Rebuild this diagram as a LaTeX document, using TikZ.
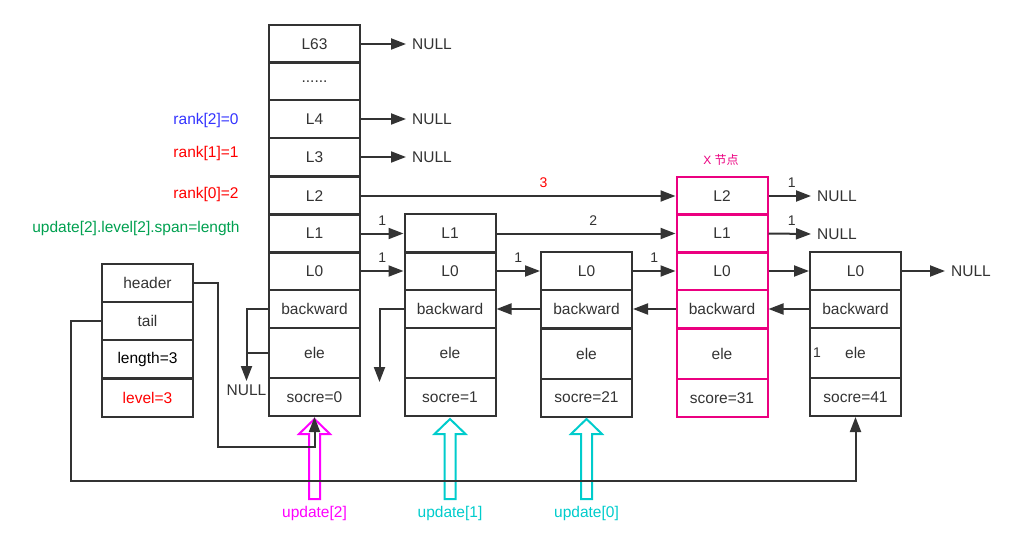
\documentclass[tikz,border=0pt]{standalone}
\usepackage{fontspec}
\setmainfont{Liberation Sans}
\newfontfamily\cjkfont{Noto Sans CJK SC}
\usetikzlibrary{arrows.meta}
\definecolor{dark}{RGB}{51,51,51}
\definecolor{xpink}{RGB}{235,0,128}
\definecolor{upmag}{RGB}{255,0,255}
\definecolor{upcyan}{RGB}{0,204,204}
\definecolor{rkblue}{RGB}{51,51,255}
\definecolor{rkred}{RGB}{255,0,0}
\definecolor{rkgreen}{RGB}{0,160,80}
\newcommand\fsmain{\fontsize{15.5}{18}\selectfont}
\newcommand\fssmall{\fontsize{14}{16}\selectfont}
\begin{document}
\begin{tikzpicture}[x=1pt,y=-1pt,
  cell/.style={draw=dark, line width=2pt, minimum width=91pt, minimum height=38pt, inner sep=0pt, font=\fsmain, text=dark},
  tallcell/.style={cell, minimum height=50pt},
  xcell/.style={cell, draw=xpink},
  xtall/.style={tallcell, draw=xpink},
  txt/.style={inner sep=0pt, font=\fsmain, text=dark},
  nul/.style={inner sep=0pt, font=\fsmain, text=dark, anchor=west},
  lbl/.style={inner sep=0pt, font=\fssmall, text=dark},
  link/.style={draw=dark, line width=2pt, -{Triangle[length=15pt,width=11pt]}},
  plain/.style={draw=dark, line width=2pt},
  uparr/.pic={\draw[line width=2pt, line join=miter] (0,0) -- (15.5,15) -- (5.5,15) -- (5.5,80) -- (-5.5,80) -- (-5.5,15) -- (-15.5,15) -- cycle;}
]
\useasboundingbox (0,0) rectangle (1017,548);

% ---- column 0 (header node) ----
\node[cell] (c0L63) at (314.5,44) {L63};
\node[cell] (c0dots) at (314.5,81.5) {......};
\node[cell] (c0L4) at (314.5,119) {L4};
\node[cell] (c0L3) at (314.5,157) {L3};
\node[cell] (c0L2) at (314.5,196) {L2};
\node[cell] (c0L1) at (314.5,233.5) {L1};
\node[cell] (c0L0) at (314.5,271) {L0};
\node[cell] (c0b) at (314.5,309) {backward};
\node[tallcell] (c0e) at (314.5,353) {ele};
\node[cell] (c0s) at (314.5,397) {socre=0};

% ---- column 1 ----
\node[cell] (c1L1) at (450,233.5) {L1};
\node[cell] (c1L0) at (450,271) {L0};
\node[cell] (c1b) at (450,309) {backward};
\node[tallcell] (c1e) at (450,353) {ele};
\node[cell] (c1s) at (450,397) {socre=1};

% ---- column 2 ----
\node[cell] (c2L0) at (586.5,271) {L0};
\node[cell] (c2b) at (586.5,309) {backward};
\node[tallcell] (c2e) at (586.5,353.5) {ele};
\node[cell] (c2s) at (586.5,397.5) {socre=21};

% ---- X node ----
\node[xcell] (xL2) at (722,196) {L2};
\node[xcell] (xL1) at (722,233.5) {L1};
\node[xcell] (xL0) at (722,271) {L0};
\node[xcell] (xb) at (722,309) {backward};
\node[xtall] (xe) at (722,354) {ele};
\node[xcell] (xs) at (722,398) {score=31};
\node[inner sep=0pt, text=xpink, font=\fontsize{12}{14}\selectfont] (xtitle) at (721,160) {X {\cjkfont 节点}};

% ---- column 4 ----
\node[cell] (c4L0) at (855.5,271) {L0};
\node[cell] (c4b) at (855.5,309) {backward};
\node[tallcell] (c4e) at (855.5,353) {ele};
\node[cell] (c4s) at (855.5,397) {socre=41};
\node[lbl] (c4one) at (817,353) {1};

% ---- list header ----
\node[cell] (hdr) at (147.5,283) {header};
\node[cell] (tail) at (147.5,321) {tail};
\node[cell, text=black] (len) at (147.5,359) {length=3};
\node[cell, text=rkred] (lvl) at (147.5,398) {level=3};

% ---- left labels ----
\node[txt, text=rkblue] (rk2) at (206,120) {rank[2]=0};
\node[txt, text=rkred] (rk1) at (206,153) {rank[1]=1};
\node[txt, text=rkred] (rk0) at (206,194) {rank[0]=2};
\node[txt, text=rkgreen] (upd) at (136,228) {update[2].level[2].span=length};

% ---- NULL nodes ----
\node[nul] (nL63) at (412,44) {NULL};
\node[nul] (nL4) at (412,119) {NULL};
\node[nul] (nL3) at (412,157) {NULL};
\node[nul] (nX2) at (817,196) {NULL};
\node[nul] (nX1) at (817,234) {NULL};
\node[nul] (nC4) at (951,271) {NULL};
\node[txt, anchor=north] (nB0) at (246.5,385) {NULL};

% ---- update block arrows ----
\pic[color=upmag] at (314.5,419) {uparr};
\pic[color=upcyan] at (450,419) {uparr};
\pic[color=upcyan] at (586.5,419) {uparr};
\node[txt, text=upmag] (u2) at (314.5,513) {update[2]};
\node[txt, text=upcyan] (u1) at (450,513) {update[1]};
\node[txt, text=upcyan] (u0) at (586.5,513) {update[0]};

% ---- forward links ----
\draw[link] (c0L63.east) -- ([xshift=-6pt]nL63.west);
\draw[link] (c0L4.east) -- ([xshift=-6pt]nL4.west);
\draw[link] (c0L3.east) -- ([xshift=-6pt]nL3.west);
\draw[link] (c0L2.east) -- node[lbl, text=rkred, pos=0.58, yshift=13pt] {3} (xL2.west);
\draw[link] (c0L1.east) -- node[lbl, pos=0.5, yshift=13pt] {1} (c1L1.west);
\draw[link] (c0L0.east) -- node[lbl, pos=0.5, yshift=13pt] {1} (c1L0.west);
\draw[link] (c1L1.east) -- node[lbl, pos=0.54, yshift=13pt] {2} (xL1.west);
\draw[link] (c1L0.east) -- node[lbl, pos=0.5, yshift=13pt] {1} (c2L0.west);
\draw[link] (c2L0.east) -- node[lbl, pos=0.5, yshift=13pt] {1} (xL0.west);
\draw[link] (xL0.east) -- (c4L0.west);
\draw[link] (xL2.east) -- node[lbl, pos=0.55, yshift=13pt] {1} ([xshift=-6pt]nX2.west);
\draw[link] (xL1.east) -- node[lbl, pos=0.55, yshift=13pt] {1} ([xshift=-6pt]nX1.west);
\draw[link] (c4L0.east) -- ([xshift=-6pt]nC4.west);

% ---- backward links ----
\draw[link] (c2b.west) -- (c1b.east);
\draw[link] (xb.west) -- (c2b.east);
\draw[link] (c4b.west) -- (xb.east);
\draw[link] (c0b.west) -| ([yshift=4pt]nB0.north);
\draw[plain] (c0e.west) -- (c0e.west -| nB0.north);
\draw[link] (c1b.west) -- ++(-24,0) -- ++(0,73);

% ---- header / tail links ----
\draw[link] (hdr.east) -- ++(24,0) |- ([yshift=-30pt]c0s.south) -- (c0s.south);
\draw[link] (tail.west) -- ++(-30,0) |- ([yshift=-64pt]c4s.south) -- (c4s.south);
\end{tikzpicture}
\end{document}
